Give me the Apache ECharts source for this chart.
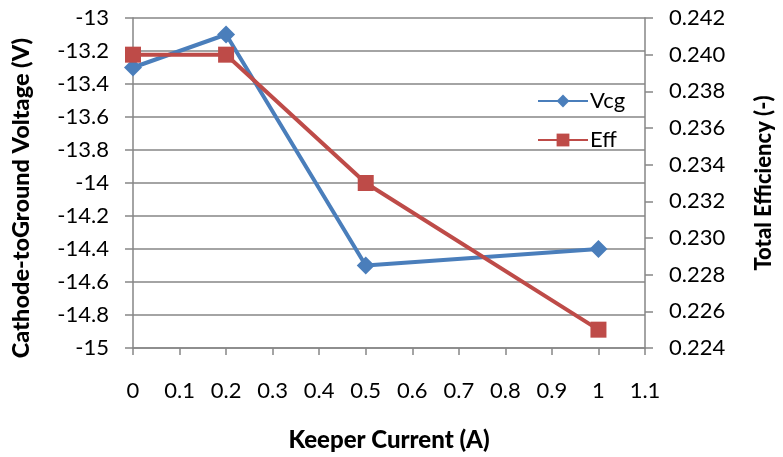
<!DOCTYPE html>
<html>
<head>
<meta charset="utf-8">
<script src="https://cdn.jsdelivr.net/npm/echarts@6/dist/echarts.min.js"></script>
<style>
  html, body { margin: 0; padding: 0; background: #fff; }
  #chart { width: 783px; height: 457px; }
</style>
</head>
<body>
<div id="chart"></div>
<script>
// Keeper current sweep (A)
const keeperCurrent = [0, 0.2, 0.5, 1];
// Cathode-to-ground voltage (V)
const vcgValues = [-13.3, -13.1, -14.5, -14.4];
// Total efficiency (-)
const effValues = [0.240, 0.240, 0.233, 0.225];

const seriesNames = ['Vcg', 'Eff'];
const xTitle = 'Keeper Current (A)';
const leftTitle = 'Cathode-toGround Voltage (V)';
const rightTitle = 'Total Efficiency (-)';

const FONT = 'Lato, "Open Sans", sans-serif';
const AXIS_GREY = '#868686';

const pairs = (xs, ys) => xs.map((x, i) => [x, ys[i]]);

const titleStyle = (size, extra) => Object.assign(
  { fontFamily: FONT, fontSize: size, fontWeight: 900, color: '#000' }, extra || {});
const tickStyle = { fontFamily: FONT, fontSize: 22, color: '#000' };

const chart = echarts.init(document.getElementById('chart'), null, { renderer: 'canvas' });

chart.setOption({
  animation: false,
  backgroundColor: '#ffffff',
  grid: { left: 133, right: 135, top: 18, bottom: 108, containLabel: false },
  legend: {
    orient: 'vertical',
    left: 532,
    top: 85,
    itemWidth: 50,
    itemHeight: 16,
    itemGap: 17,
    textStyle: { fontFamily: FONT, fontSize: 22, color: '#000', padding: [0, 0, 0, -3] },
    data: seriesNames
  },
  xAxis: {
    type: 'value',
    min: 0, max: 1.1, interval: 0.1,
    name: xTitle,
    nameLocation: 'middle',
    nameGap: 80,
    nameTextStyle: titleStyle(24),
    axisLine: { show: true, onZero: false, lineStyle: { color: AXIS_GREY, width: 1.5 } },
    axisTick: { show: true, length: 7, lineStyle: { color: AXIS_GREY, width: 1.5 } },
    axisLabel: Object.assign({
      margin: 32,
      formatter: v => String(Math.round(v * 10) / 10)
    }, tickStyle),
    splitLine: { show: false }
  },
  yAxis: [
    {
      type: 'value',
      min: -15, max: -13, interval: 0.2,
      position: 'left',
      name: leftTitle,
      nameLocation: 'middle',
      nameRotate: 90,
      nameGap: 100,
      nameTextStyle: titleStyle(23.5, { padding: [0, 30, 0, 0] }),
      axisLine: { show: true, onZero: false, lineStyle: { color: AXIS_GREY, width: 1.5 } },
      axisTick: { show: true, length: 8, lineStyle: { color: AXIS_GREY, width: 1.5 } },
      axisLabel: Object.assign({
        margin: 24,
        formatter: v => String(Math.round(v * 10) / 10)
      }, tickStyle),
      splitLine: { show: true, lineStyle: { color: AXIS_GREY, width: 1.5 } }
    },
    {
      type: 'value',
      min: 0.224, max: 0.242, interval: 0.002,
      position: 'right',
      name: rightTitle,
      nameLocation: 'middle',
      nameRotate: 90,
      nameGap: 108,
      nameTextStyle: titleStyle(22),
      axisLine: { show: true, onZero: false, lineStyle: { color: AXIS_GREY, width: 1.5 } },
      axisTick: { show: true, length: 8, lineStyle: { color: AXIS_GREY, width: 1.5 } },
      axisLabel: Object.assign({
        margin: 24,
        formatter: v => v.toFixed(3)
      }, tickStyle),
      splitLine: { show: false }
    }
  ],
  series: [
    {
      name: seriesNames[0],
      type: 'line',
      yAxisIndex: 0,
      data: pairs(keeperCurrent, vcgValues),
      symbol: 'diamond',
      symbolSize: 18,
      lineStyle: { color: '#4A7EBB', width: 4 },
      itemStyle: { color: '#4A7EBB' },
      z: 3
    },
    {
      name: seriesNames[1],
      type: 'line',
      yAxisIndex: 1,
      data: pairs(keeperCurrent, effValues),
      symbol: 'rect',
      symbolSize: 16,
      lineStyle: { color: '#BE4B48', width: 4 },
      itemStyle: { color: '#BE4B48' },
      z: 4
    }
  ]
});
</script>
</body>
</html>
